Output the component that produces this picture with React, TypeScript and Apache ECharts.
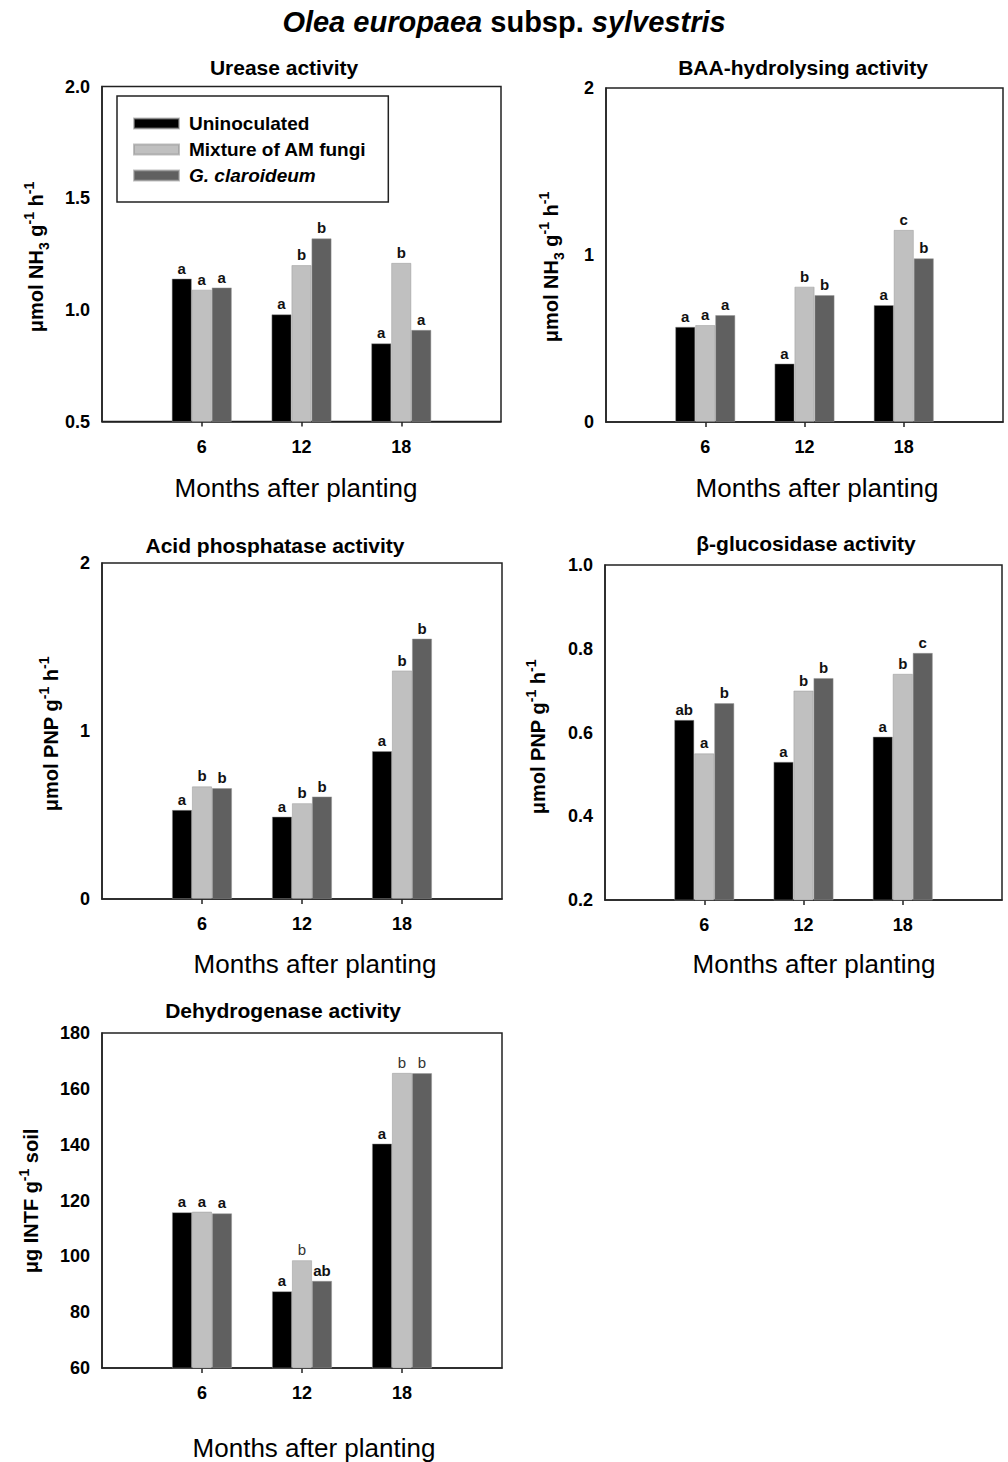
import React, { useEffect, useRef } from 'react';
import * as echarts from 'echarts';

const FONT = '"Liberation Sans", Arial, sans-serif';

const months = ['0', '6', '12', '18', '24'];
const seriesNames = ['Uninoculated', 'Mixture of AM fungi', 'G. claroideum'];
const barColors = ['#000000', '#c0c0c0', '#606060'];

// values at 6, 12, 18 months
const ureaseUnin = [1.14, 0.98, 0.85];
const ureaseMix = [1.09, 1.2, 1.21];
const ureaseGc = [1.1, 1.32, 0.91];
const ureaseLetUnin = ['a', 'a', 'a'];
const ureaseLetMix = ['a', 'b', 'b'];
const ureaseLetGc = ['a', 'b', 'a'];

const baaUnin = [0.57, 0.35, 0.7];
const baaMix = [0.58, 0.81, 1.15];
const baaGc = [0.64, 0.76, 0.98];
const baaLetUnin = ['a', 'a', 'a'];
const baaLetMix = ['a', 'b', 'c'];
const baaLetGc = ['a', 'b', 'b'];

const acidUnin = [0.53, 0.49, 0.88];
const acidMix = [0.67, 0.57, 1.36];
const acidGc = [0.66, 0.61, 1.55];
const acidLetUnin = ['a', 'a', 'a'];
const acidLetMix = ['b', 'b', 'b'];
const acidLetGc = ['b', 'b', 'b'];

const gluUnin = [0.63, 0.53, 0.59];
const gluMix = [0.55, 0.7, 0.74];
const gluGc = [0.67, 0.73, 0.79];
const gluLetUnin = ['ab', 'a', 'a'];
const gluLetMix = ['a', 'b', 'b'];
const gluLetGc = ['b', 'b', 'c'];

const dehUnin = [115.8, 87.5, 140.4];
const dehMix = [116.0, 98.6, 165.7];
const dehGc = [115.4, 91.2, 165.6];
const dehLetUnin = ['a', 'a', 'a'];
const dehLetMix = ['a', 'b', 'b'];
const dehLetGc = ['a', 'ab', 'b'];
// letters printed in regular (non-bold) weight
const dehPlainMix = [false, true, true];
const dehPlainGc = [false, false, true];

const noPlain = [false, false, false];

const panels = [
  {
    title: 'Urease activity', titleX: 284, titleY: 67,
    grid: { left: 102, top: 86.5, width: 399, height: 335 },
    yMin: 0.5, yMax: 2.0, yInt: 0.5, dec: 1,
    yName: '{n|μmol NH}{sub|3}{n| g}{sup|-1}{n| h}{sup|-1}', yNameX: 36, yNameY: 257,
    xNameX: 296, xNameY: 488,
    values: [ureaseUnin, ureaseMix, ureaseGc],
    letters: [ureaseLetUnin, ureaseLetMix, ureaseLetGc],
    plain: [noPlain, noPlain, noPlain],
  },
  {
    title: 'BAA-hydrolysing activity', titleX: 803, titleY: 67,
    grid: { left: 606, top: 88, width: 397, height: 334 },
    yMin: 0, yMax: 2, yInt: 1, dec: 0,
    yName: '{n|μmol NH}{sub|3}{n| g}{sup|-1}{n| h}{sup|-1}', yNameX: 551, yNameY: 267,
    xNameX: 817, xNameY: 488,
    values: [baaUnin, baaMix, baaGc],
    letters: [baaLetUnin, baaLetMix, baaLetGc],
    plain: [noPlain, noPlain, noPlain],
  },
  {
    title: 'Acid phosphatase activity', titleX: 275, titleY: 545,
    grid: { left: 102, top: 563, width: 400, height: 336 },
    yMin: 0, yMax: 2, yInt: 1, dec: 0,
    yName: '{n|μmol PNP g}{sup|-1}{n| h}{sup|-1}', yNameX: 51, yNameY: 734,
    xNameX: 315, xNameY: 964,
    values: [acidUnin, acidMix, acidGc],
    letters: [acidLetUnin, acidLetMix, acidLetGc],
    plain: [noPlain, noPlain, noPlain],
  },
  {
    title: 'β-glucosidase activity', titleX: 806, titleY: 543,
    grid: { left: 605, top: 565, width: 397, height: 335 },
    yMin: 0.2, yMax: 1.0, yInt: 0.2, dec: 1,
    yName: '{n|μmol PNP g}{sup|-1}{n| h}{sup|-1}', yNameX: 538, yNameY: 737,
    xNameX: 814, xNameY: 964,
    values: [gluUnin, gluMix, gluGc],
    letters: [gluLetUnin, gluLetMix, gluLetGc],
    plain: [noPlain, noPlain, noPlain],
  },
  {
    title: 'Dehydrogenase activity', titleX: 283, titleY: 1010,
    grid: { left: 102, top: 1033, width: 400, height: 335 },
    yMin: 60, yMax: 180, yInt: 20, dec: 0,
    yName: '{n|μg INTF g}{sup|-1}{n| soil}', yNameX: 31, yNameY: 1201,
    xNameX: 314, xNameY: 1448,
    values: [dehUnin, dehMix, dehGc],
    letters: [dehLetUnin, dehLetMix, dehLetGc],
    plain: [noPlain, dehPlainMix, dehPlainGc],
  },
];

const tickShown = (i: number) => i >= 1 && i <= 3;

const richY = {
  n: { fontFamily: FONT, fontSize: 20, fontWeight: 'bold', fill: '#000', lineHeight: 29 },
  sub: { fontFamily: FONT, fontSize: 14, fontWeight: 'bold', fill: '#000', verticalAlign: 'bottom', lineHeight: 17 },
  sup: { fontFamily: FONT, fontSize: 14, fontWeight: 'bold', fill: '#000', verticalAlign: 'top', lineHeight: 17 },
};

export default function App() {
  const ref = useRef<HTMLDivElement>(null);

  useEffect(() => {
    if (!ref.current) return;
    const chart = echarts.init(ref.current, undefined, { renderer: 'svg' });

    const grids: any[] = [];
    const xAxes: any[] = [];
    const yAxes: any[] = [];
    const series: any[] = [];
    const graphics: any[] = [];

    graphics.push({
      type: 'text',
      x: 504,
      y: 22,
      style: {
        text: '{i|Olea europaea}{n| subsp. }{i|sylvestris}',
        textAlign: 'center',
        textVerticalAlign: 'middle',
        rich: {
          i: { fontFamily: FONT, fontSize: 29, fontWeight: 'bold', fontStyle: 'italic', fill: '#000' },
          n: { fontFamily: FONT, fontSize: 29, fontWeight: 'bold', fill: '#000' },
        },
      },
    });

    panels.forEach((p, pi) => {
      grids.push({
        ...p.grid,
        show: true,
        borderColor: '#222',
        borderWidth: 1.5,
        containLabel: false,
      });
      xAxes.push({
        type: 'category',
        gridIndex: pi,
        data: months,
        boundaryGap: false,
        axisLine: { show: true, lineStyle: { color: '#222', width: 1.5 } },
        axisTick: { show: true, length: 5, interval: tickShown, lineStyle: { color: '#222', width: 1.5 } },
        axisLabel: {
          interval: tickShown,
          margin: 16,
          fontFamily: FONT,
          fontSize: 18,
          fontWeight: 'bold',
          color: '#000',
        },
        splitLine: { show: false },
      });
      yAxes.push({
        type: 'value',
        gridIndex: pi,
        min: p.yMin,
        max: p.yMax,
        interval: p.yInt,
        axisLine: { show: true, lineStyle: { color: '#222', width: 1.5 } },
        axisTick: { show: false },
        splitLine: { show: false },
        axisLabel: {
          margin: 12,
          fontFamily: FONT,
          fontSize: 18,
          fontWeight: 'bold',
          color: '#000',
          formatter: (v: number) => v.toFixed(p.dec),
        },
      });
      p.values.forEach((vals, si) => {
        const letters = p.letters[si];
        const plain = p.plain[si];
        series.push({
          type: 'bar',
          name: seriesNames[si],
          xAxisIndex: pi,
          yAxisIndex: pi,
          barWidth: 20,
          barGap: '0%',
          itemStyle: { color: barColors[si], borderColor: 'rgba(150,150,150,0.6)', borderWidth: 0.8 },
          data: [null, ...vals, null],
          label: {
            show: true,
            position: 'top',
            distance: 3,
            formatter: (params: any) => {
              const k = params.dataIndex - 1;
              const t = letters[k] ?? '';
              return plain[k] ? `{r|${t}}` : `{b|${t}}`;
            },
            rich: {
              b: { fontFamily: FONT, fontSize: 15, fontWeight: 'bold', color: '#111' },
              r: { fontFamily: FONT, fontSize: 15, fontWeight: 'normal', color: '#333' },
            },
          },
        });
      });

      graphics.push({
        type: 'text',
        x: p.titleX,
        y: p.titleY,
        style: {
          text: p.title,
          textAlign: 'center',
          textVerticalAlign: 'middle',
          fontFamily: FONT,
          fontSize: 21,
          fontWeight: 'bold',
          fill: '#000',
        },
      });
      graphics.push({
        type: 'text',
        x: p.xNameX,
        y: p.xNameY,
        style: {
          text: 'Months after planting',
          textAlign: 'center',
          textVerticalAlign: 'middle',
          fontFamily: FONT,
          fontSize: 26,
          fill: '#000',
        },
      });
      graphics.push({
        type: 'text',
        x: p.yNameX,
        y: p.yNameY,
        rotation: Math.PI / 2,
        style: {
          text: p.yName,
          textAlign: 'center',
          textVerticalAlign: 'middle',
          rich: richY,
        },
      });
    });

    chart.setOption({
      animation: false,
      backgroundColor: '#fff',
      grid: grids,
      xAxis: xAxes,
      yAxis: yAxes,
      series,
      graphic: graphics,
      legend: {
        data: seriesNames,
        orient: 'vertical',
        left: 117,
        top: 96,
        icon: 'rect',
        itemWidth: 45,
        itemHeight: 10,
        itemGap: 7,
        padding: [18, 22, 17, 16],
        borderColor: '#222',
        borderWidth: 1.5,
        selectedMode: false,
        formatter: (name: string) => (name === 'G. claroideum' ? `{i|${name}}` : `{n|${name}}`),
        textStyle: {
          fontFamily: FONT,
          fontSize: 19,
          fontWeight: 'bold',
          color: '#000',
          padding: [0, 0, 0, 5],
          rich: {
            n: { fontFamily: FONT, fontSize: 19, fontWeight: 'bold', color: '#000', lineHeight: 19 },
            i: { fontFamily: FONT, fontSize: 19, fontWeight: 'bold', fontStyle: 'italic', color: '#000', lineHeight: 19 },
          },
        },
      },
    });

    return () => {
      chart.dispose();
    };
  }, []);

  return (
    <div
      ref={ref}
      style={{ position: 'absolute', left: 0, top: 0, width: 1008, height: 1462, background: '#fff' }}
    />
  );
}
